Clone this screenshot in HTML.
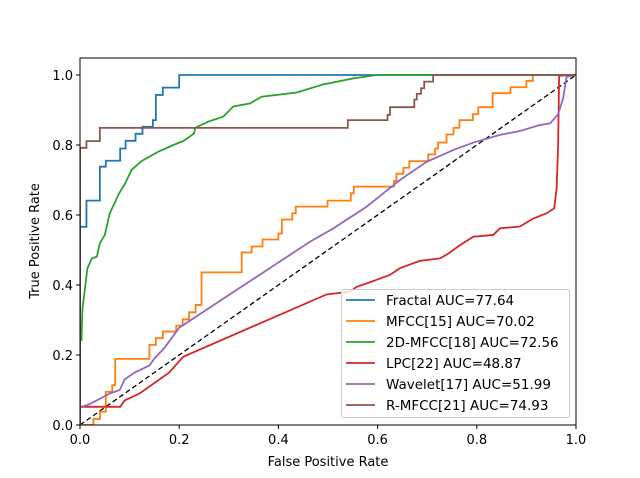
<!DOCTYPE html>
<html><head><meta charset="utf-8"><style>
body{margin:0;background:#fff;}
svg{display:block;font-family:"DejaVu Sans","Liberation Sans",sans-serif;}
</style></head><body>
<svg id="chart" width="640" height="478" viewBox="0 0 640 478" xmlns="http://www.w3.org/2000/svg">
<rect x="0" y="0" width="640" height="478" fill="#fff"/>
<g id="plot"></g>
<g id="axes"></g>
<text x="328" y="466" font-size="13" text-anchor="middle" fill="#000">False Positive Rate</text>
<text x="0" y="0" font-size="13" text-anchor="middle" fill="#000" transform="translate(39,241) rotate(-90)">True Positive Rate</text>
<g id="legend"></g>
</svg>
<script>
const xTicks = [0, 0.2, 0.4, 0.6, 0.8, 1.0];
const yTicks = [0, 0.2, 0.4, 0.6, 0.8, 1.0];
const tickLabels = ["0.0", "0.2", "0.4", "0.6", "0.8", "1.0"];
const seriesNames = ["Fractal AUC=77.64", "MFCC[15] AUC=70.02", "2D-MFCC[18] AUC=72.56", "LPC[22] AUC=48.87", "Wavelet[17] AUC=51.99", "R-MFCC[21] AUC=74.93"];
const seriesColors = ["#1f77b4", "#ff7f0e", "#2ca02c", "#d62728", "#9467bd", "#8c564b"];
const fractalFpr = [0,0,0.013,0.013,0.04,0.04,0.052,0.052,0.081,0.081,0.092,0.092,0.112,0.112,0.126,0.126,0.147,0.147,0.153,0.153,0.167,0.167,0.2,0.2,1];
const fractalTpr = [0,0.566,0.566,0.641,0.641,0.738,0.738,0.755,0.755,0.79,0.79,0.812,0.812,0.832,0.832,0.852,0.852,0.871,0.871,0.943,0.943,0.964,0.964,1,1];
const mfccFpr = [0,0.027,0.027,0.04,0.04,0.052,0.052,0.065,0.065,0.071,0.071,0.14,0.14,0.153,0.153,0.167,0.167,0.194,0.194,0.207,0.207,0.22,0.22,0.233,0.233,0.245,0.245,0.326,0.326,0.346,0.346,0.368,0.368,0.4,0.4,0.407,0.407,0.428,0.428,0.435,0.435,0.499,0.499,0.546,0.546,0.552,0.552,0.633,0.633,0.638,0.638,0.652,0.652,0.664,0.664,0.702,0.702,0.716,0.716,0.722,0.722,0.739,0.739,0.753,0.753,0.765,0.765,0.792,0.792,0.803,0.803,0.832,0.832,0.868,0.868,0.9,0.9,0.913,0.913,1];
const mfccTpr = [0,0,0.017,0.017,0.038,0.038,0.095,0.095,0.114,0.114,0.189,0.189,0.229,0.229,0.248,0.248,0.267,0.267,0.284,0.284,0.302,0.302,0.322,0.322,0.343,0.343,0.436,0.436,0.493,0.493,0.51,0.51,0.53,0.53,0.547,0.547,0.587,0.587,0.605,0.605,0.624,0.624,0.641,0.641,0.662,0.662,0.681,0.681,0.697,0.697,0.718,0.718,0.735,0.735,0.754,0.754,0.773,0.773,0.79,0.79,0.807,0.807,0.83,0.83,0.849,0.849,0.871,0.871,0.888,0.888,0.908,0.908,0.948,0.948,0.965,0.965,0.983,0.983,1,1];
const mfcc2dFpr = [0,0.003,0.005,0.01,0.015,0.024,0.034,0.04,0.05,0.06,0.071,0.079,0.091,0.104,0.124,0.158,0.188,0.208,0.23,0.232,0.259,0.289,0.309,0.343,0.366,0.437,0.49,0.55,0.598,1];
const mfcc2dTpr = [0.243,0.243,0.333,0.39,0.448,0.476,0.481,0.519,0.543,0.605,0.638,0.662,0.69,0.729,0.754,0.781,0.8,0.811,0.833,0.849,0.867,0.881,0.91,0.919,0.938,0.95,0.973,0.99,1,1];
const lpcFpr = [0,0.081,0.09,0.12,0.15,0.18,0.208,0.497,0.544,0.558,0.581,0.625,0.645,0.685,0.726,0.743,0.766,0.793,0.833,0.847,0.887,0.914,0.941,0.956,0.961,0.964,0.966,1];
const lpcTpr = [0.052,0.052,0.07,0.09,0.12,0.15,0.195,0.373,0.381,0.395,0.406,0.429,0.448,0.469,0.476,0.49,0.514,0.538,0.543,0.562,0.567,0.59,0.605,0.619,0.676,0.805,0.998,1];
const waveletFpr = [0,0.02,0.04,0.06,0.08,0.09,0.11,0.14,0.15,0.17,0.2,0.464,0.511,0.578,0.645,0.699,0.753,0.793,0.847,0.887,0.927,0.948,0.964,0.974,0.981,1];
const waveletTpr = [0.05,0.06,0.075,0.09,0.1,0.13,0.15,0.17,0.19,0.22,0.278,0.524,0.562,0.624,0.7,0.752,0.786,0.807,0.829,0.84,0.857,0.862,0.888,0.933,0.995,1];
const rmfccFpr = [0,0,0.013,0.013,0.04,0.04,0.54,0.54,0.62,0.62,0.625,0.625,0.674,0.674,0.679,0.679,0.6875,0.6875,0.694,0.694,0.712,0.712,1];
const rmfccTpr = [0,0.792,0.792,0.811,0.811,0.849,0.849,0.871,0.871,0.886,0.886,0.908,0.908,0.93,0.93,0.946,0.946,0.962,0.962,0.981,0.981,1,1];

const X0=80, X1=576, Y0=425, Y1=75;
const sx = v => X0 + v*(X1-X0);
const sy = v => Y0 - v*(Y0-Y1);
const NS='http://www.w3.org/2000/svg';
function mk(tag, attrs, parent){const e=document.createElementNS(NS,tag);for(const k in attrs)e.setAttribute(k,attrs[k]);parent.appendChild(e);return e;}
const plot=document.getElementById('plot'), axes=document.getElementById('axes'), legend=document.getElementById('legend');

const series=[[fractalFpr,fractalTpr],[mfccFpr,mfccTpr],[mfcc2dFpr,mfcc2dTpr],[lpcFpr,lpcTpr],[waveletFpr,waveletTpr],[rmfccFpr,rmfccTpr]];
const seriesKeys=['fractal','mfcc','mfcc-2d','lpc','wavelet','r-mfcc'];
const clip=mk('clipPath',{id:'cp'},plot); mk('rect',{x:X0,y:58,width:X1-X0,height:Y0-58},clip);
const diag=mk('line',{x1:sx(0),y1:sy(0),x2:sx(1),y2:sy(1),stroke:'#000','stroke-width':1.3,'stroke-dasharray':'5,3'},plot);


series.forEach((s,i)=>{
  const pts=s[0].map((x,j)=>sx(x).toFixed(2)+','+sy(s[1][j]).toFixed(2)).join(' ');
  const p=mk('polyline',{points:pts,fill:'none',stroke:seriesColors[i],'stroke-width':1.8,'stroke-linejoin':'miter','clip-path':'url(#cp)'},plot);
  
  
});
const fr=mk('rect',{x:X0,y:58,width:X1-X0,height:Y0-58,fill:'none',stroke:'#000','stroke-width':1},axes);


xTicks.forEach((t,i)=>{
  mk('line',{x1:sx(t),y1:Y0,x2:sx(t),y2:Y0+4,stroke:'#000'},axes);
  const tx=mk('text',{x:sx(t),y:Y0+19,'font-size':13,'text-anchor':'middle'},axes);
  tx.textContent=tickLabels[i];
  
  
});
yTicks.forEach((t,i)=>{
  mk('line',{x1:X0-4,y1:sy(t),x2:X0,y2:sy(t),stroke:'#000'},axes);
  const tx=mk('text',{x:X0-7,y:sy(t)+5,'font-size':13,'text-anchor':'end'},axes);
  tx.textContent=tickLabels[i];
  
  
});
const lb=mk('rect',{x:341.5,y:289.5,width:228,height:128,fill:'#fff','fill-opacity':0.8,stroke:'#ccc',rx:2},legend);


seriesNames.forEach((n,i)=>{
  const y=300+i*21;
  const g=mk('g',{},legend);
  
  
  mk('line',{x1:346,y1:y,x2:375,y2:y,stroke:seriesColors[i],'stroke-width':1.8},g);
  const t=mk('text',{x:386,y:y+5,'font-size':13.5},g);
  t.textContent=n;
});
</script>
</body></html>
